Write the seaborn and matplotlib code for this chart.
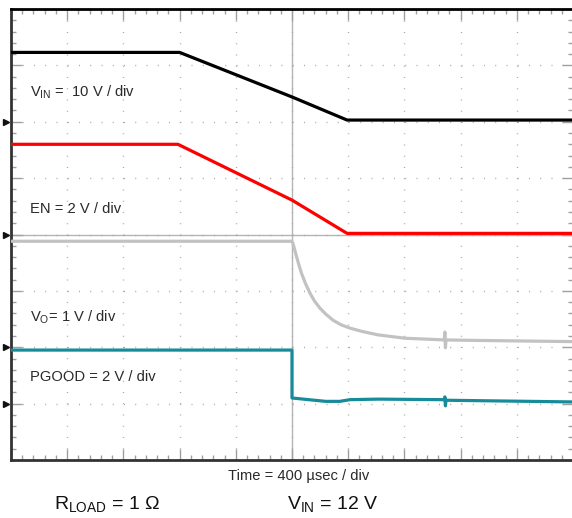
#!/usr/bin/env python3
import numpy as np
import pandas as pd
import seaborn as sns
import matplotlib
matplotlib.use("Agg")
import matplotlib.pyplot as plt

# scope screen: time in divisions (400 usec/div), level in divisions from bottom
vin_t = [0.0, 3.0, 5.0, 5.98, 10.0]
vin_v = [7.23, 7.23, 6.44, 6.03, 6.03]

en_t = [0.0, 2.97, 5.0, 5.98, 10.0]
en_v = [5.60, 5.60, 4.61, 4.02, 4.02]

vo_t = [0.0, 5.0, 5.01, 5.04, 5.08, 5.12, 5.17, 5.24, 5.32, 5.40, 5.50,
        5.61, 5.73, 5.87, 6.03, 6.25, 6.53, 7.01, 7.71, 7.72, 7.73, 7.74,
        8.35, 10.0]
vo_v = [3.88, 3.88, 3.86, 3.76, 3.61, 3.47, 3.31, 3.13, 2.96, 2.82, 2.69,
        2.58, 2.48, 2.40, 2.34, 2.28, 2.22, 2.16, 2.13, 2.27, 1.99, 2.13,
        2.12, 2.10]

pg_t = [0.0, 5.0, 5.0, 5.3, 5.6, 5.85, 6.03, 6.53, 7.71, 7.72, 7.73, 7.74, 10.0]
pg_v = [1.95, 1.95, 1.10, 1.07, 1.04, 1.04, 1.07, 1.08, 1.07, 1.12, 0.96,
        1.06, 1.03]

ref_levels = [6.0, 4.0, 2.0, 1.0]

traces = [
    ("VIN", vin_t, vin_v, "#000000"),
    ("EN", en_t, en_v, "#ff0000"),
    ("VO", vo_t, vo_v, "#c2c2c2"),
    ("PGOOD", pg_t, pg_v, "#178b9a"),
]

sns.set_style("white")
plt.rcParams["font.family"] = ["Liberation Sans", "DejaVu Sans"]
plt.rcParams["mathtext.fontset"] = "custom"
plt.rcParams["mathtext.rm"] = "Liberation Sans"
plt.rcParams["mathtext.it"] = "Liberation Sans:italic"

W, H = 572, 518
fig = plt.figure(figsize=(W / 100, H / 100), dpi=100)
pos = [11 / W, 58 / H, 562 / W, 451 / H]

# center cross with ticks on both sides
axc = fig.add_axes(pos)
axc.set_xlim(0, 10)
axc.set_ylim(0, 8)
for s in ["top", "right"]:
    axc.spines[s].set_visible(False)
axc.spines["left"].set_position(("data", 5))
axc.spines["bottom"].set_position(("data", 4))
for s in ["left", "bottom"]:
    axc.spines[s].set_color("#b5b5b5")
    axc.spines[s].set_linewidth(1.0)
axc.set_xticks(np.arange(0, 11, 1))
axc.set_yticks(np.arange(0, 9, 1))
axc.set_xticks(np.arange(0, 10.01, 0.2), minor=True)
axc.set_yticks(np.arange(0, 8.01, 0.2), minor=True)
axc.tick_params(which="major", direction="inout", length=10, color="#b5b5b5",
                width=1.0, labelbottom=False, labelleft=False)
axc.tick_params(which="minor", direction="inout", length=5, color="#b5b5b5",
                width=1.0)
axc.patch.set_visible(False)

ax = fig.add_axes(pos)
ax.patch.set_visible(False)
for name, t, v, c in traces:
    df = pd.DataFrame({"t": t, "v": v})
    sns.lineplot(data=df, x="t", y="v", ax=ax, color=c, lw=2.3,
                 sort=False, estimator=None, zorder=3)

ax.set_xlim(0, 10)
ax.set_ylim(0, 8)
ax.set_xlabel("")
ax.set_ylabel("")
ax.set_xticks(np.arange(0, 11, 1))
ax.set_yticks(np.arange(0, 9, 1))
ax.set_xticks(np.arange(0, 10.01, 0.2), minor=True)
ax.set_yticks(np.arange(0, 8.01, 0.2), minor=True)
ax.tick_params(which="both", direction="in", top=True, right=True,
               bottom=True, left=True, labelbottom=False, labelleft=False,
               color="#a0a0a0", width=1.0)
ax.tick_params(which="major", length=8)
ax.tick_params(which="minor", length=3.5)
ax.grid(True, which="major", color="#a8a8a8", lw=1.0,
        linestyle=(0, (0.7, 7.4)))
ax.spines["left"].set_color("#333333")
ax.spines["bottom"].set_color("#333333")
ax.spines["top"].set_color("#000000")
for s in ["left", "bottom", "top", "right"]:
    ax.spines[s].set_linewidth(2.0)

# channel reference markers
ax.plot([-0.09] * len(ref_levels), ref_levels, ls="none", marker=">",
        ms=4.5, color="#111111", clip_on=False)

tc = "#2a2a2a"
fs = 10.6
ax.text(0.34, 6.44, r"V$_{\mathrm{IN}}$ =  10 V / div", fontsize=fs,
        color=tc, va="baseline")
ax.text(0.34, 4.38, "EN = 2 V / div", fontsize=fs, color=tc, va="baseline")
ax.text(0.34, 2.45, r"V$_{\mathrm{O}}$= 1 V / div", fontsize=fs, color=tc,
        va="baseline")
ax.text(0.34, 1.40, "PGOOD = 2 V / div", fontsize=fs, color=tc,
        va="baseline")

fig.text(299 / W, (H - 480) / H, "Time = 400 µsec / div", fontsize=10.6,
         color=tc, ha="center", va="baseline")
fig.text(54 / W, (H - 509) / H, r"R$_{\mathrm{LOAD}}$ = 1 Ω", fontsize=14,
         color="#111111", va="baseline")
fig.text(287 / W, (H - 509) / H, r"V$_{\mathrm{IN}}$ = 12 V", fontsize=14,
         color="#111111", va="baseline")

fig.savefig("out.png", dpi=100)
